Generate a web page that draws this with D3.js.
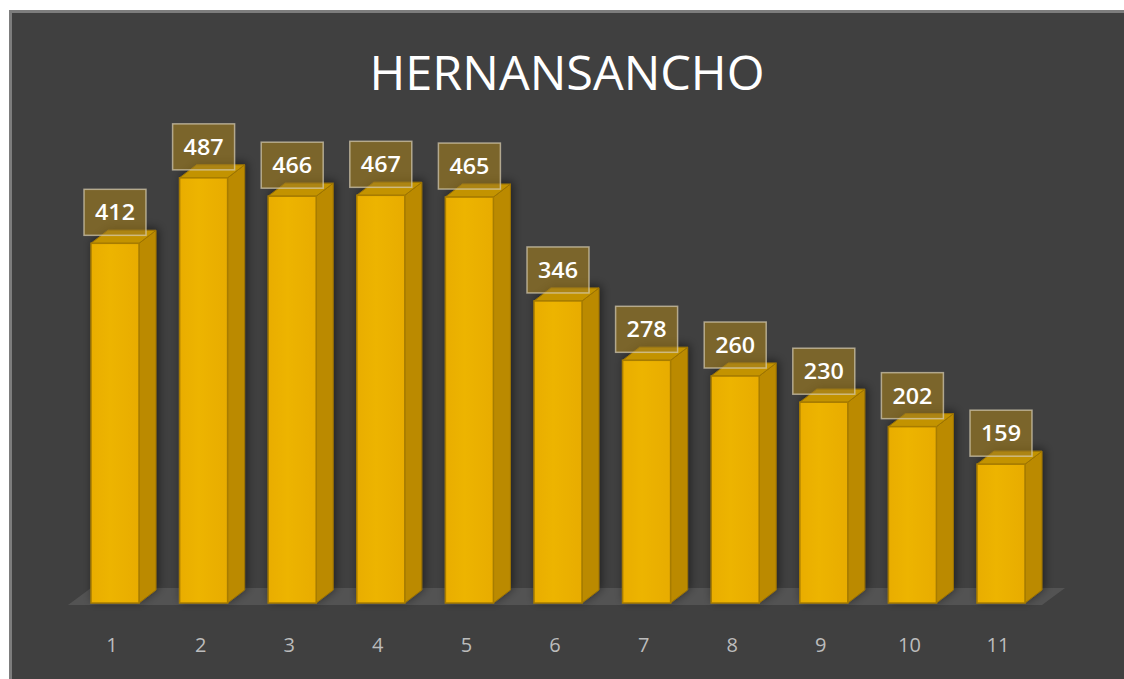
<!DOCTYPE html>
<html>
<head>
<meta charset="utf-8">
<script src="https://cdn.jsdelivr.net/npm/d3@7"></script>
<style>
  body { margin: 0; background: #fff; overflow: hidden; }
  svg { display: block; }
</style>
</head>
<body>
<div id="chart"></div>
<script>
let categories = ['1', '2', '3', '4', '5', '6', '7', '8', '9', '10', '11']
let values = [412, 487, 466, 467, 465, 346, 278, 260, 230, 202, 159]
let title = 'HERNANSANCHO'

let width = 1124
let height = 679

let svg = d3
  .select('#chart')
  .append('svg')
  .attr('width', width)
  .attr('height', height)

let defs = svg.append('defs')

let shadow = defs.append('filter')
  .attr('id', 'shadow')
  .attr('x', '-50%').attr('y', '-50%')
  .attr('width', '200%').attr('height', '200%')
shadow.append('feGaussianBlur').attr('in', 'SourceAlpha').attr('stdDeviation', 5)
shadow.append('feOffset').attr('dx', 2).attr('dy', -2).attr('result', 'b')
shadow.append('feComponentTransfer').append('feFuncA').attr('type', 'linear').attr('slope', 0.5)
let merge = shadow.append('feMerge')
merge.append('feMergeNode')
merge.append('feMergeNode').attr('in', 'SourceGraphic')

let frontGrad = defs.append('linearGradient').attr('id', 'front')
  .attr('x1', 0).attr('x2', 1).attr('y1', 0).attr('y2', 0)
frontGrad.append('stop').attr('offset', '0%').attr('stop-color', '#e9ad00')
frontGrad.append('stop').attr('offset', '40%').attr('stop-color', '#edb400')
frontGrad.append('stop').attr('offset', '100%').attr('stop-color', '#e8ac00')

// chart panel (right and bottom edges run off the page)
svg.append('rect')
  .attr('x', 10.5)
  .attr('y', 11.5)
  .attr('width', width + 40)
  .attr('height', height + 40)
  .attr('fill', '#404040')
  .attr('stroke', '#7d7d7d')
  .attr('stroke-width', 3)

let xScale = d3.scalePoint()
  .domain(categories)
  .range([115, 1001])

let yScale = d3.scaleLinear()
  .domain([0, 500])
  .range([603, 166.5])

let barWidth = 48
let depthX = 17
let depthY = 13

// floor
let floorLeft = xScale(categories[0]) - barWidth / 2 - 23
let floorRight = xScale(categories[categories.length - 1]) + barWidth / 2 + 17
svg.append('path')
  .attr('d', `M${floorLeft},${yScale(0) + 2} L${floorRight},${yScale(0) + 2} ` +
    `L${floorRight + 23},${yScale(0) - 15} L${floorLeft + 23},${yScale(0) - 15} Z`)
  .attr('fill', '#535353')

let bars = svg.selectAll('.bar')
  .data(values)
  .enter()
  .append('g')
  .attr('class', 'bar')
  .attr('filter', 'url(#shadow)')

bars.each(function (d, i) {
  let g = d3.select(this)
  let x0 = xScale(categories[i]) - barWidth / 2
  let x1 = x0 + barWidth
  let y0 = yScale(0)
  let y1 = yScale(d)

  // side
  g.append('path')
    .attr('d', `M${x1},${y1} L${x1 + depthX},${y1 - depthY} L${x1 + depthX},${y0 - depthY} L${x1},${y0} Z`)
    .attr('fill', '#bb8a03')
    .attr('stroke', '#9c7300')
    .attr('stroke-width', 1)
    .attr('stroke-linejoin', 'round')

  // top
  g.append('path')
    .attr('d', `M${x0},${y1} L${x0 + depthX},${y1 - depthY} L${x1 + depthX},${y1 - depthY} L${x1},${y1} Z`)
    .attr('fill', '#c39300')
    .attr('stroke', '#9c7300')
    .attr('stroke-width', 1)
    .attr('stroke-linejoin', 'round')

  // front
  g.append('rect')
    .attr('x', x0)
    .attr('y', y1)
    .attr('width', barWidth)
    .attr('height', y0 - y1)
    .attr('fill', 'url(#front)')
    .attr('stroke', '#a77c00')
    .attr('stroke-width', 1.5)
})

// data labels
let labels = svg.selectAll('.label')
  .data(values)
  .enter()
  .append('g')
  .attr('class', 'label')
  .attr('transform', (d, i) => `translate(${xScale(categories[i])},${yScale(d) - 8})`)

labels.append('rect')
  .attr('x', -31)
  .attr('y', -46)
  .attr('width', 62)
  .attr('height', 46)
  .attr('fill', 'rgba(160,125,30,0.62)')
  .attr('stroke', 'rgba(215,205,180,0.7)')
  .attr('stroke-width', 1.5)

labels.append('text')
  .text(d => d)
  .attr('x', 0)
  .attr('y', -15)
  .attr('text-anchor', 'middle')
  .attr('font-family', 'Open Sans, sans-serif')
  .attr('font-weight', 600)
  .attr('font-size', 22)
  .attr('textLength', 40)
  .attr('lengthAdjust', 'spacingAndGlyphs')
  .attr('fill', '#ffffff')

// category labels
svg.selectAll('.x-label')
  .data(categories)
  .enter()
  .append('text')
  .attr('class', 'x-label')
  .text(d => d)
  .attr('x', d => xScale(d) - 3)
  .attr('y', 652)
  .attr('text-anchor', 'middle')
  .attr('font-family', 'Open Sans, sans-serif')
  .attr('font-size', 20)
  .attr('fill', '#bcbcbc')

// title
svg.append('text')
  .text(title)
  .attr('x', 567)
  .attr('y', 90)
  .attr('text-anchor', 'middle')
  .attr('font-family', 'Open Sans, sans-serif')
  .attr('font-size', 47)
  .attr('textLength', 395)
  .attr('lengthAdjust', 'spacingAndGlyphs')
  .attr('fill', '#ffffff')
</script>
</body>
</html>
